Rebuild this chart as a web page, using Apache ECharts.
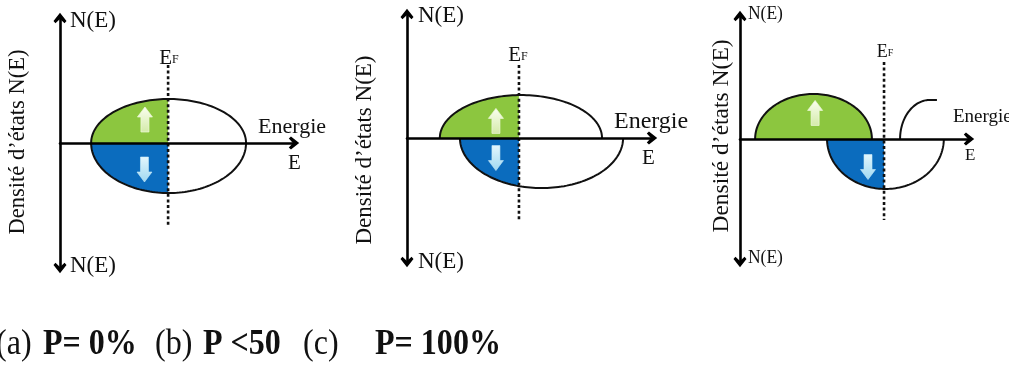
<!DOCTYPE html>
<html><head><meta charset="utf-8">
<script src="https://cdn.jsdelivr.net/npm/echarts@6/dist/echarts.min.js"></script>
<style>html,body{margin:0;padding:0;background:#fff}#c{width:1009px;height:367px}</style>
</head><body><div id="c"></div>
<script>
// ---- data (energy on x, density of states on y; arbitrary units 0..10 / -5..5) ----
const panelTags = ['(a)', '(b)', '(c)'];
const captionValues = ['P= 0%', 'P <50', 'P= 100%'];
const fermiLevel = [4.62, 4.57, 6.29];
const fermiTop = [3.12, 2.94, 3.13];
const fermiBottom = [-3.36, -3.31, -3.29];
const upCentre = [4.64, 4.65, 3.21];
const upHalfWidth = [3.31, 3.31, 2.55];
const upHeight = [1.76, 1.73, 1.83];
const downCentre = [4.64, 5.49, 6.35];
const downHalfWidth = [3.31, 3.33, 2.55];
const downHeight = [2.00, 2.02, 2.03];
const upArrowPos = [[3.63, 0.94], [3.63, 0.69], [3.28, 1.06]];
const downArrowPos = [[3.61, -1.06], [3.63, -0.81], [5.59, -1.14]];
const minorityPanel = [2];
const minorityStart = [6.99];
const minorityTopX = [8.30];
const minorityEnd = [8.60];
const minorityHeight = [1.59];
const axisTitleY = 'Densité d\u2019états N(E)';
const axisTitleX = 'Energie';

// ---- layout ----
const grids = [
  {left: 60, top: 18, width: 234, height: 250},
  {left: 407, top: 14, width: 245, height: 248},
  {left: 740, top: 16, width: 229, height: 246}
];
const GREEN = '#8cc63f', BLUE = '#0b6cbe';
const SERIF = '"Liberation Serif","DejaVu Serif",serif';
const CHEVRON = 'path://M6,0 L12,7.6 L10.2,9.6 L6,5.8 L1.8,9.6 L0,7.6 Z';

function buildData(i) {
  const d = [];
  d.push([0, upCentre[i], upHalfWidth[i], upHeight[i], fermiLevel[i]]);
  d.push([0, downCentre[i], downHalfWidth[i], -downHeight[i], fermiLevel[i]]);
  d.push([1, upArrowPos[i][0], upArrowPos[i][1], 1]);
  d.push([1, downArrowPos[i][0], downArrowPos[i][1], -1]);
  minorityPanel.forEach((p, k) => {
    if (p === i) d.push([3, minorityStart[k], minorityTopX[k], minorityEnd[k], minorityHeight[k]]);
  });
  d.push([2, fermiLevel[i], fermiTop[i], fermiBottom[i]]);
  return d;
}

function renderItem(params, api) {
  const kind = api.value(0);
  if (kind === 0) {
    const c = api.value(1), hw = api.value(2), h = api.value(3), ef = api.value(4);
    const pL = api.coord([c - hw, 0]), pR = api.coord([c + hw, 0]), pT = api.coord([c, h]);
    const pE = api.coord([ef, 0]);
    const pcx = (pL[0] + pR[0]) / 2, rx = (pR[0] - pL[0]) / 2;
    const ay = pL[1], ry = Math.abs(pT[1] - ay);
    const s = h > 0 ? -1 : 1;
    const N = 90;
    const outline = [];
    for (let k = 0; k <= N; k++) {
      const t = Math.PI * k / N;
      outline.push([pcx - rx * Math.cos(t), ay + s * ry * Math.sin(t)]);
    }
    const children = [];
    const xe = pE[0];
    if (xe > pcx - rx) {
      const tE = xe >= pcx + rx ? Math.PI : Math.acos((pcx - xe) / rx);
      const fill = [];
      for (let k = 0; k <= N; k++) {
        const t = tE * k / N;
        fill.push([pcx - rx * Math.cos(t), ay + s * ry * Math.sin(t)]);
      }
      fill.push([fill[fill.length - 1][0], ay]);
      children.push({type: 'polygon', shape: {points: fill},
        style: {fill: h > 0 ? GREEN : BLUE, stroke: null}});
    }
    children.push({type: 'polyline', shape: {points: outline},
      style: {fill: null, stroke: '#111', lineWidth: 2}});
    return {type: 'group', children};
  }
  if (kind === 1) {
    const p = api.coord([api.value(1), api.value(2)]);
    const dir = api.value(3);
    const x = p[0], y = p[1];
    const H = 12.5, hh = 2.5, hw = 7.5, sw = 4;
    const q = dir > 0 ? 1 : -1;
    const pts = [
      [x, y - q * H], [x + hw, y - q * hh], [x + sw, y - q * hh], [x + sw, y + q * H],
      [x - sw, y + q * H], [x - sw, y - q * hh], [x - hw, y - q * hh]
    ];
    const stops = dir > 0
      ? [{offset: 0, color: '#fbfff0'}, {offset: 1, color: '#d3eaa9'}]
      : [{offset: 0, color: '#e4f7fd'}, {offset: 1, color: '#9fd8f1'}];
    return {type: 'polygon', shape: {points: pts},
      style: {fill: {type: 'linear', x: 0, y: 0, x2: 0, y2: 1, colorStops: stops},
        stroke: dir > 0 ? 'rgba(240,250,220,0.7)' : 'rgba(200,235,250,0.6)', lineWidth: 1, lineJoin: 'round'}};
  }
  if (kind === 2) {
    const a = api.coord([api.value(1), api.value(2)]);
    const b = api.coord([api.value(1), api.value(3)]);
    return {type: 'line', shape: {x1: a[0], y1: a[1], x2: b[0], y2: b[1]},
      style: {stroke: '#111', lineWidth: 2.6, lineDash: [3, 2.6]}};
  }
  if (kind === 3) {
    const pS = api.coord([api.value(1), 0]);
    const pC = api.coord([api.value(2), api.value(4)]);
    const pEnd = api.coord([api.value(3), api.value(4)]);
    const rx = pC[0] - pS[0], ry = pS[1] - pC[1];
    const cx = pC[0], ay = pS[1];
    const pts = [];
    const N = 40;
    for (let k = 0; k <= N; k++) {
      const t = Math.PI / 2 * k / N;
      pts.push([cx - rx * Math.cos(t), ay - ry * Math.sin(t)]);
    }
    pts.push([pEnd[0], pEnd[1]]);
    return {type: 'polyline', shape: {points: pts},
      style: {fill: null, stroke: '#111', lineWidth: 2}};
  }
  return null;
}

const axisLineStyle = {color: '#000', width: 2.6};
const option = {
  animation: false,
  backgroundColor: '#fff',
  grid: grids.map(g => Object.assign({containLabel: false}, g)),
  xAxis: grids.map((g, i) => ({
    type: 'value', gridIndex: i, min: 0, max: 10, z: 5,
    axisLine: {show: true, onZero: true, symbol: ['none', CHEVRON], symbolSize: [13, 11], lineStyle: axisLineStyle},
    axisTick: {show: false}, axisLabel: {show: false}, splitLine: {show: false}
  })),
  yAxis: grids.map((g, i) => ({
    type: 'value', gridIndex: i, min: -5, max: 5, z: 5,
    axisLine: {show: true, onZero: false, symbol: [CHEVRON, CHEVRON], symbolSize: [13, 11], lineStyle: axisLineStyle},
    axisTick: {show: false}, axisLabel: {show: false}, splitLine: {show: false}
  })),
  series: grids.map((g, i) => ({
    type: 'custom', xAxisIndex: i, yAxisIndex: i, silent: true,
    renderItem, data: buildData(i), z: 2
  })),
  graphic: []
};

function txt(text, x, y, size, opts) {
  opts = opts || {};
  return {
    type: 'text', x, y, rotation: opts.rot || 0, scaleX: opts.sx || 1, silent: true,
    style: {text, fill: '#111', font: (opts.bold ? 'bold ' : '') + size + 'px ' + SERIF,
      align: opts.align || 'left', verticalAlign: 'middle'}
  };
}
function ef(x, y, size) {
  return {
    type: 'text', x, y, silent: true,
    style: {text: '{e|E}{f|F}', align: 'center', verticalAlign: 'middle',
      rich: {e: {fontFamily: SERIF, fontSize: size, fill: '#111'},
             f: {fontFamily: SERIF, fontSize: Math.round(size * 0.55), fill: '#111', padding: [3, 0, 0, 0]}}}
  };
}
const G = option.graphic;
// panel a
G.push(txt('N(E)', 70, 21, 23));
G.push(txt('N(E)', 70, 266, 23));
G.push(txt(axisTitleX, 258, 127, 22));
G.push(txt('E', 288, 163, 21));
G.push(ef(169, 58, 21));
G.push(txt(axisTitleY, 18, 142, 22.5, {rot: Math.PI / 2, align: 'center'}));
// panel b
G.push(txt('N(E)', 418, 16, 23));
G.push(txt('N(E)', 418, 262, 23));
G.push(txt(axisTitleX, 614, 122, 24));
G.push(txt('E', 642, 158, 21));
G.push(ef(518, 55, 21));
G.push(txt(axisTitleY, 365, 150, 23, {rot: Math.PI / 2, align: 'center'}));
// panel c
G.push(txt('N(E)', 748, 14, 19, {sx: 0.92}));
G.push(txt('N(E)', 748, 258, 19, {sx: 0.92}));
G.push(txt(axisTitleX, 953, 117, 19));
G.push(txt('E', 965, 156, 17));
G.push(ef(885, 52, 18));
G.push(txt(axisTitleY, 722, 136, 23.5, {rot: Math.PI / 2, align: 'center'}));
// caption
const capY = 345;
G.push(txt(panelTags[0], -4, capY, 36, {sx: 0.89}));
G.push(txt(captionValues[0], 43, capY, 36, {sx: 0.89, bold: true}));
G.push(txt(panelTags[1], 155, capY, 36, {sx: 0.89}));
G.push(txt(captionValues[1], 203, capY, 36, {sx: 0.89, bold: true}));
G.push(txt(panelTags[2], 303, capY, 36, {sx: 0.89}));
G.push(txt(captionValues[2], 375, capY, 36, {sx: 0.89, bold: true}));

const chart = echarts.init(document.getElementById('c'), null, {renderer: 'canvas'});
chart.setOption(option);
</script></body></html>
